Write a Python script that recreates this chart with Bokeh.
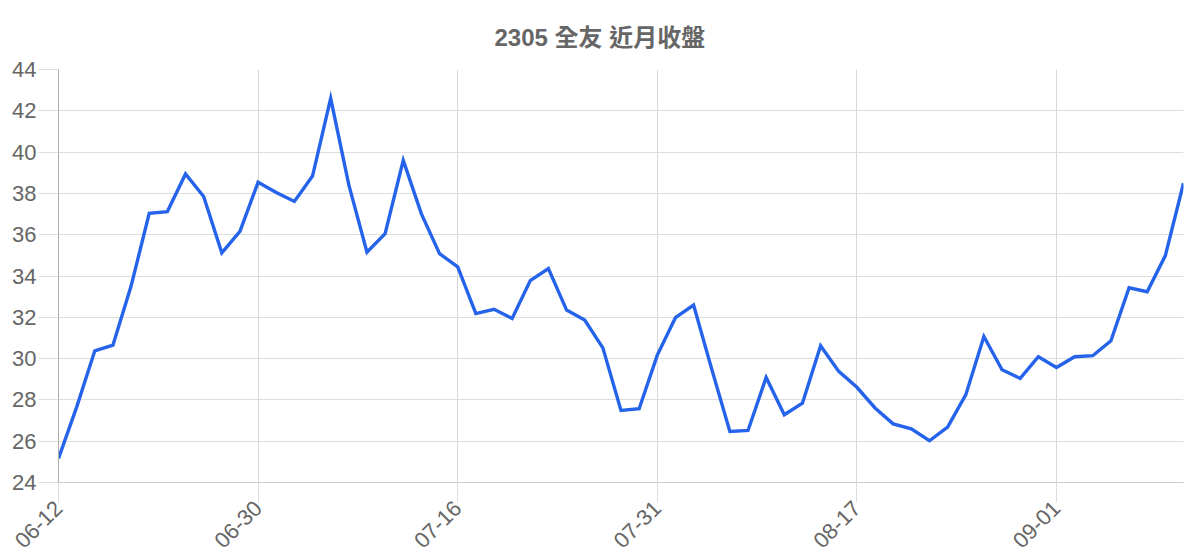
import math
from bokeh.plotting import figure
from bokeh.models import ColumnDataSource, FixedTicker, Range1d
from bokeh.embed import file_html
from bokeh.resources import INLINE

title_text = "2305 全友 近月收盤"

dates = [
    "06-12", "06-13", "06-15", "06-16", "06-18", "06-19", "06-21", "06-23", "06-25", "06-26", "06-28",
    "06-30", "07-01", "07-03", "07-04", "07-06", "07-07", "07-09", "07-10", "07-12", "07-13", "07-15",
    "07-16", "07-18", "07-19", "07-20", "07-22", "07-23", "07-25", "07-26", "07-27", "07-29", "07-30",
    "07-31", "08-02", "08-03", "08-05", "08-06", "08-08", "08-09", "08-11", "08-12", "08-14", "08-15",
    "08-17", "08-18", "08-20", "08-21", "08-22", "08-24", "08-25", "08-27", "08-28", "08-29", "08-31",
    "09-01", "09-02", "09-04", "09-05", "09-07", "09-08", "09-09", "09-11",
]

close = [
    25.16, 27.65, 30.38, 30.65, 33.51, 37.03, 37.12, 38.94, 37.85, 35.12, 36.16,
    38.54, 38.04, 37.61, 38.84, 42.60, 38.41, 35.15, 36.05, 39.60, 37.01, 35.08,
    34.44, 32.18, 32.39, 31.94, 33.78, 34.36, 32.35, 31.87, 30.52, 27.49, 27.57,
    30.17, 31.98, 32.59, 29.49, 26.47, 26.52, 29.09, 27.28, 27.84, 30.62, 29.38,
    28.61, 27.61, 26.84, 26.60, 26.02, 26.68, 28.24, 31.07, 29.46, 29.04, 30.09,
    29.57, 30.09, 30.14, 30.86, 33.43, 33.24, 34.99, 38.49,
]

label_every = 11
y_min, y_max, y_step = 24, 44, 2

idx = list(range(len(close)))
src = ColumnDataSource(dict(x=idx, y=close, d=dates))

FONT = "'Liberation Sans', Arial, 'Noto Sans CJK TC', sans-serif"

p = figure(
    width=1192, height=557,
    output_backend="svg", toolbar_location=None,
    x_range=Range1d(0, len(close) - 1), y_range=Range1d(y_min, y_max),
    min_border_left=58, min_border_right=9, min_border_top=69, min_border_bottom=69,
)
p.outline_line_color = None

p.title.text = title_text
p.title.align = "left"
p.title.offset = 436
p.title.standoff = 38
p.title.text_font = FONT
p.title.text_font_size = "24px"
p.title.text_font_style = "bold"
p.title.text_color = "#666666"

p.line("x", "y", source=src, line_color="#2563EB", line_width=3.4, line_join="miter")

tick_idx = idx[::label_every]
p.xaxis.ticker = FixedTicker(ticks=tick_idx)
p.xaxis.major_label_overrides = {i: dates[i] for i in tick_idx}
p.xaxis.major_label_orientation = math.pi / 4
p.yaxis.ticker = FixedTicker(ticks=list(range(y_min, y_max + 1, y_step)))

for ax in (p.xaxis[0], p.yaxis[0]):
    ax.major_label_text_font = FONT
    ax.major_label_text_font_size = "22px"
    ax.major_label_text_color = "#666666"
    ax.minor_tick_line_color = None
    ax.major_tick_in = 0
    ax.major_tick_out = 20
    ax.major_tick_line_color = "#dddddd"
    ax.major_label_standoff = 2

p.xaxis.axis_line_color = "#cccccc"
p.yaxis.axis_line_color = "#aaaaaa"

p.xgrid.grid_line_color = "#d9d9d9"
p.ygrid.grid_line_color = "#dddddd"
p.xgrid.grid_line_width = 1
p.ygrid.grid_line_width = 1

open("out.html", "w").write(file_html(p, INLINE))
